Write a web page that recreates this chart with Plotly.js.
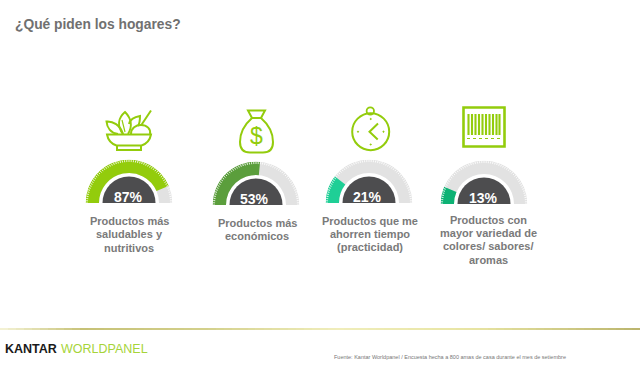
<!DOCTYPE html>
<html><head><meta charset="utf-8">
<script src="https://cdn.plot.ly/plotly-3.0.1.min.js"></script>
<style>html,body{margin:0;padding:0;background:#fff}#c{width:640px;height:368px}</style>
</head><body><div id="c"></div>
<script>
const title = '¿Qué piden los hogares?';
const source = 'Fuente: Kantar Worldpanel / Encuesta hecha a 800 amas de casa durante el mes de setiembre';
const percents = [87, 53, 21, 13];
const fillColors = ['#93CC0C', '#5B9E3C', '#1FCF96', '#0DB274'];
const centersX = [129, 256, 369, 484];
const baselinesY = [203, 205, 203, 204];
const percentX = [128, 254, 367, 483];
const labelX = [129, 257, 370, 488];
const labelLines = [
  ['Productos más', 'saludables y', 'nutritivos'],
  ['Productos más', 'económicos'],
  ['Productos que me', 'ahorren tiempo', '(practicidad)'],
  ['Productos con', 'mayor variedad de', 'colores/ sabores/', 'aromas']
];
const labelFirstY = [221, 222.5, 220.5, 219.5];
const LIME = '#93CC0C', TRACK = '#E2E2E2', DARK = '#4D4D4F', TEXT = '#7A7A7A';
const FONT = '"Liberation Sans", Arial, sans-serif';
const R_OUT = 43.5, R_IN = 30, R_DARK = 26.5;
const W = 640, H = 368;

const traces = [{type: 'scatter', x: [0, W], y: [0, H], mode: 'none', hoverinfo: 'skip', showlegend: false}];
const layout = {
  width: W, height: H, margin: {l: 0, r: 0, t: 0, b: 0},
  paper_bgcolor: '#fff', plot_bgcolor: '#fff', showlegend: false,
  xaxis: {range: [0, W], visible: false, fixedrange: true},
  yaxis: {range: [H, 0], visible: false, fixedrange: true},
  shapes: [], annotations: []
};
const txt = (x, y, text, size, color, bold, anchor) => layout.annotations.push({
  xref: 'x', yref: 'y', x, y, text: bold ? '<b>' + text + '</b>' : text, showarrow: false,
  xanchor: anchor || 'center', yanchor: 'middle',
  font: {family: FONT, size, color}, borderpad: 0, borderwidth: 0
});

percents.forEach((p, i) => {
  const id = 'polar' + (i === 0 ? '' : i + 1);
  const cx = centersX[i], by = baselinesY[i];
  const deg = p * 1.8;
  const common = {type: 'barpolar', subplot: id, hoverinfo: 'skip', marker: {line: {width: 0}}};
  traces.push(Object.assign({}, common, {r: [R_OUT - R_IN], base: [R_IN], theta: [90], width: [180], marker: {color: TRACK, line: {width: 0}}}));
  traces.push(Object.assign({}, common, {r: [R_OUT - R_IN], base: [R_IN], theta: [deg / 2], width: [deg], marker: {color: fillColors[i], line: {width: 0}}}));
  traces.push(Object.assign({}, common, {r: [R_DARK], base: [0], theta: [90], width: [180], marker: {color: DARK, line: {width: 0}}}));
  layout[id] = {
    domain: {x: [(cx - R_OUT) / W, (cx + R_OUT) / W], y: [(H - by) / H, (H - by + R_OUT) / H]},
    sector: [0, 180], bgcolor: 'rgba(0,0,0,0)', barmode: 'overlay',
    radialaxis: {visible: false, range: [0, R_OUT]},
    angularaxis: {direction: 'clockwise', rotation: 180, showgrid: false, showline: false,
      showticklabels: false, ticks: 'inside', ticklen: 2, tickwidth: 0.8, tickcolor: '#fff',
      tick0: 0, dtick: 3, layer: 'above traces'}
  };
  txt(percentX[i], by - 6.5, p + '%', 14, '#fff', true);
  labelLines[i].forEach((line, k) => txt(labelX[i], labelFirstY[i] + k * 13.4, line, 11, TEXT, true));
});

const stroke = (path, w) => layout.shapes.push({type: 'path', xref: 'x', yref: 'y', path, line: {color: LIME, width: w || 2}, fillcolor: 'rgba(0,0,0,0)'});
const ring = (cx, cy, r, w, fill) => layout.shapes.push({type: 'circle', xref: 'x', yref: 'y', x0: cx - r, x1: cx + r, y0: cy - r, y1: cy + r, line: {color: LIME, width: w}, fillcolor: fill || 'rgba(0,0,0,0)'});

// bowl icon
stroke('M107,134.5 L151,134.5 C150,140 146,144 141.5,145.5 L116.5,145.5 C112,144 108,140 107,134.5 Z');
stroke('M117,145.5 L117,150 L141,150 L141,145.5');
stroke('M118,134 C111,133 107,128 106.5,121.5 C113,121 120,125 123,134');
stroke('M123,134 C117,126 118,118 125,112 C131,118 133,126 128,134');
stroke('M122,120 L125,132', 1.2);
stroke('M129,124 C130,120 134,117 140,116 C140,120 140,123 138,126');
stroke('M131,134 C131,128 136,125 141,125 C147,125 151,129 150,134');
stroke('M141,125.5 L151,110.5');
// money bag icon
stroke('M248,110.5 L265,110.5 L261,118 L252,118 Z');
stroke('M252,118 C244,125 240,134 240,142 C240,149 244,152.5 250,152.5 L263,152.5 C269,152.5 273,149 273,142 C273,134 269,125 261,118');
txt(256.5, 136, '$', 23, LIME, false);
// clock icon
ring(370.7, 131.7, 18.5, 2);
ring(370.3, 111, 3.7, 1.8);
stroke('M378,123.5 L369.5,131.7 L377.7,139.5', 2);
[[370.7, 119], [358, 131.7], [383.5, 131.7], [370.7, 144.5]].forEach(d => ring(d[0], d[1], 0.6, 1, LIME));
// barcode icon
stroke('M463.5,107.5 L504.5,107.5 L504.5,146.5 L463.5,146.5 Z', 2.6);
[468.5, 472, 475.5, 479, 482.5, 486, 489.5, 493, 496.5, 499.5].forEach(x => stroke('M' + x + ',114 L' + x + ',135', 2.1));
layout.shapes.push({type: 'line', xref: 'x', yref: 'y', x0: 467, x1: 501, y0: 138.5, y1: 138.5, line: {color: LIME, width: 1.2, dash: 'dot'}});

// footer rule
const ruleStops = [[0, [240, 238, 200]], [80, [184, 178, 84]], [200, [200, 196, 110]], [330, [236, 233, 170]], [470, [226, 222, 140]], [640, [168, 160, 70]]];
for (let x = 0; x < W; x += 8) {
  let s = 0; while (s < ruleStops.length - 2 && ruleStops[s + 1][0] <= x) s++;
  const a = ruleStops[s], b = ruleStops[s + 1], t = (x - a[0]) / (b[0] - a[0]);
  const c = a[1].map((v, n) => Math.round(v + (b[1][n] - v) * t));
  layout.shapes.push({type: 'line', xref: 'x', yref: 'y', x0: x, x1: x + 8, y0: 329, y1: 329, line: {color: 'rgb(' + c + ')', width: 1.6}});
}

txt(15, 24, title, 13.8, '#707070', true, 'left');
txt(5, 349, 'KANTAR', 12.5, '#1A1A1A', true, 'left');
txt(60.5, 349, 'WORLDPANEL', 12.5, '#A6D43A', false, 'left');
txt(334, 357, source, 5.5, '#777777', false, 'left');

Plotly.newPlot('c', traces, layout, {displayModeBar: false, staticPlot: true});
</script></body></html>
